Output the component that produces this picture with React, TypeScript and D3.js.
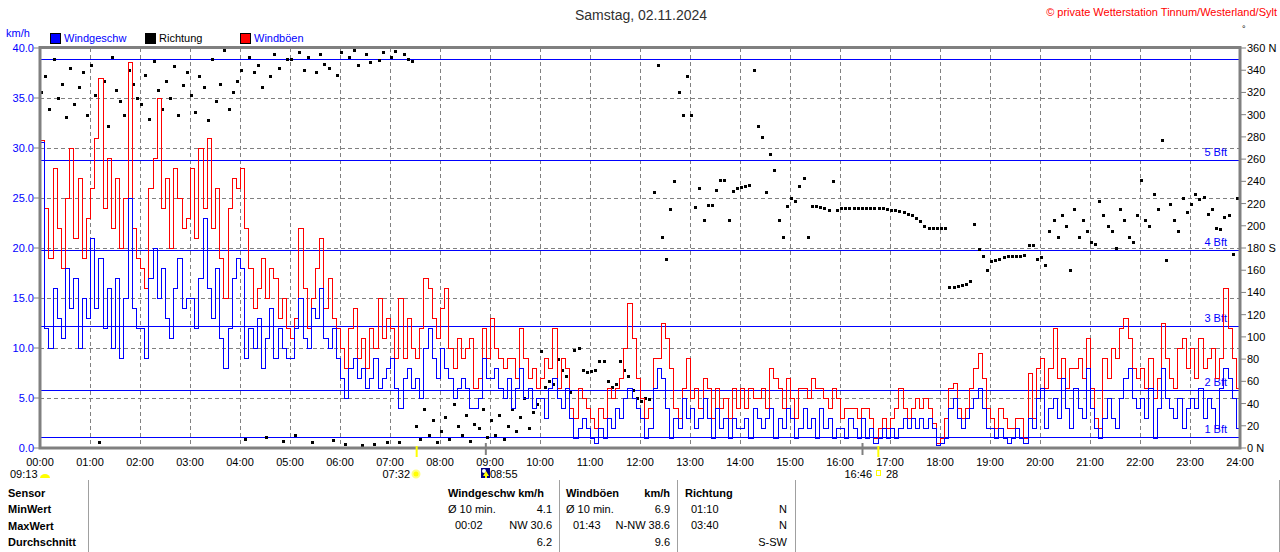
import React from 'react';
import * as d3 from 'd3';

// 5-minute readings, one row per hour (00:00 ... 23:55)
const windSpeed: number[] = [
  30.6, 12, 10, 16, 13, 11, 18, 14, 17, 10, 15, 13,
  21, 14, 19, 12, 16, 10, 17, 9, 15, 25, 14, 12,
  12, 9, 17, 20, 15, 18, 13, 11, 16, 19, 14, 15,
  15, 12, 17, 23, 16, 13, 18, 11, 8, 12, 17, 19,
  18, 9, 12, 10, 13, 8, 11, 14, 9, 12, 10, 9,
  9, 12, 15, 11, 10, 14, 13, 16, 11, 10, 12, 9,
  7, 5, 8, 9, 7, 8, 6, 7, 9, 6, 7, 8,
  9, 6, 4, 7, 8, 6, 7, 5, 10, 12, 9, 7,
  10, 8, 7, 5, 6, 7, 6, 4, 4, 5, 9, 7,
  7, 8, 6, 5, 7, 4, 6, 8, 5, 6, 4, 5,
  5, 3, 6, 7, 5, 4, 6, 3, 1, 2, 3, 2,
  1, 0.5, 2, 1, 3, 2, 4, 3, 5, 6, 5, 4,
  3, 1, 2, 6, 8, 7, 4, 1, 3, 2, 5, 3,
  4, 2, 3, 5, 3, 1, 4, 2, 3, 1, 3, 2,
  2, 3, 1, 4, 3, 2, 3, 4, 1, 3, 2, 4,
  3, 1, 2, 4, 2, 3, 1, 4, 2, 3, 1, 2,
  2, 1, 3, 2, 1, 3, 1, 2, 0.5, 1, 2, 1,
  2, 1, 2, 3, 2, 3, 2, 3, 2, 3, 2, 0.3,
  0.5, 1, 4, 5, 3, 2, 3, 4, 5, 6, 4, 2,
  2, 1, 2, 1, 0.5, 1, 2, 1, 0.5, 3, 2, 5,
  6, 2, 4, 5, 3, 7, 4, 2, 6, 4, 3, 8,
  4, 2, 1, 3, 5, 3, 2, 5, 7, 8, 5, 4,
  5, 3, 6, 1, 4, 8, 5, 4, 3, 5, 2, 4,
  5, 4, 6, 3, 5, 4, 2, 6, 8, 7, 5, 2,
];

const windGust: number[] = [
  30.8, 24, 19, 28, 22, 18, 25, 30, 21, 27, 19, 23,
  26, 31, 37, 24, 29, 22, 27, 20, 25, 38.6, 22, 19,
  18, 16, 26, 29, 35, 24, 27, 20, 28, 25, 22, 23,
  28, 21, 30, 24, 31, 22, 26, 19, 15, 24, 27, 26,
  28, 22, 18, 14, 16, 19, 15, 18, 17, 13, 15, 12,
  11, 13, 22, 16, 12, 15, 18, 21, 14, 17, 13, 12,
  10, 8, 12, 14, 9, 11, 8, 12, 10, 15, 11, 13,
  12, 9, 15, 9, 13, 10, 9, 12, 17, 16, 13, 11,
  14, 16, 10, 8, 11, 9, 10, 11, 6, 7, 12, 9,
  13, 10, 9, 8, 9, 9, 7, 12, 9, 7, 8, 6,
  7, 9, 8, 12, 6, 9, 8, 4, 3, 6, 5, 4,
  3, 2, 4, 3, 6, 5, 6, 7, 10, 14.5, 11, 7,
  5, 3, 4, 9, 9, 12.5, 11, 8, 4, 3, 6, 9,
  5, 6, 4, 7, 6, 3, 6, 4, 5, 3, 6, 4,
  6, 4, 6, 5, 5, 6, 4, 8, 7, 6, 4, 7,
  5, 3, 6, 6, 5, 7, 6, 6, 5, 4, 6, 5,
  3, 4, 4, 4, 3, 4, 4, 3, 1, 2, 3, 2,
  3, 4, 6, 4, 3, 4, 5, 4, 5, 4, 2.5, 0.5,
  1, 3, 6, 6.5, 4, 3, 4, 6, 8, 9.5, 7, 4,
  3, 2, 4, 3, 2, 2, 3, 3, 1, 7.5, 3, 8,
  9, 6, 8, 12, 7, 9, 6, 8, 8, 9, 7, 11,
  6, 3, 2, 9, 7, 10, 9, 12, 13, 11, 8, 7,
  8, 6, 9, 5, 7, 12.5, 9, 7, 6, 10, 11, 8,
  10, 7, 11, 8, 9, 10, 7, 9, 16, 12, 9, 6,
];

const direction: number[] = [
  320, 335, 305, 350, 315, 328, 298, 342, 310, 325, 338, 300,
  345, 318, 5, 330, 290, 352, 322, 312, 300, 340, 328, 315,
  310, 336, 296, 348, 322, 305, 330, 315, 344, 300, 327, 338,
  318, 302, 335, 325, 295, 350, 312, 328, 358, 305, 320, 330,
  340, 8, 352, 338, 345, 325, 10, 335, 355, 342, 6, 350,
  350, 12, 356, 340, 352, 5, 338, 355, 346, 342, 7, 336,
  356, 4, 352, 358, 345, 3, 355, 347, 4, 349, 356, 5,
  352, 357, 5, 355, 350, 348, 20, 8, 35, 12, 25, 5,
  15, 28, 8, 40, 20, 12, 30, 6, 22, 18, 35, 10,
  25, 12, 30, 8, 20, 35, 15, 28, 45, 18, 32, 40,
  87, 55, 60, 58, 80, 70, 65, 50, 88, 90, 70, 68,
  69, 70, 78, 78, 60, 55, 58, 78, 70, 65, 52, 45,
  42, 45, 44, 230, 345, 190, 170, 215, 240, 320, 300, 335,
  300, 217, 234, 205, 219, 219, 232, 241, 241, 205, 231, 234,
  235, 236, 237, 340, 290, 280, 230, 265, 250, 205, 190, 218,
  225, 222, 236, 243, 190, 218, 218, 217, 216, 214, 240, 214,
  216, 216, 216, 216, 216, 216, 216, 216, 216, 216, 216, 215,
  214, 214, 213, 212, 211, 210, 207, 204, 200, 198, 198, 198,
  198, 198, 145, 145, 146, 147, 148, 150, 202, 179, 173, 160,
  168, 169, 170, 172, 173, 173, 173, 173, 174, 183, 183, 170,
  172, 165, 195, 205, 190, 210, 200, 160, 215, 190, 205, 195,
  185, 184, 222, 210, 200, 195, 180, 215, 205, 190, 185, 210,
  241, 205, 200, 229, 215, 277, 169, 220, 205, 195, 225, 212,
  220, 229, 224, 226, 211, 215, 198, 197, 208, 210, 175, 225,
];

const hourLabels = Array.from({ length: 25 }, (_, h) => `${String(h).padStart(2, '0')}:00`);
const speedTicks = [0, 5, 10, 15, 20, 25, 30, 35, 40];
const dirTicks = [0, 20, 40, 60, 80, 100, 120, 140, 160, 180, 200, 220, 240, 260, 280, 300, 320, 340, 360];
const dirSuffix: Record<number, string> = { 0: ' N', 180: ' S', 360: ' N' };
const bftLimits = [1.08, 5.76, 12.24, 19.8, 28.8, 38.88];
const bftLabels = ['1 Bft', '2 Bft', '3 Bft', '4 Bft', '5 Bft', ''];

const legendItems = [
  { label: 'Windgeschw', color: '#0000ff', text: '#0000ff' },
  { label: 'Richtung', color: '#000000', text: '#000000' },
  { label: 'Windböen', color: '#ff0000', text: '#0000ff' },
];

const FONT = '"Liberation Sans", Arial, sans-serif';
const STEP = 5 / 60;

const App: React.FC = () => {
  const x = d3.scaleLinear().domain([0, 24]).range([40, 1240]);
  const y = d3.scaleLinear().domain([0, 40]).range([448, 48]);
  const yDir = d3.scaleLinear().domain([0, 360]).range([448, 48]);

  const stepLine = d3
    .line<number>()
    .x((_, i) => Math.round(x(i * STEP)) + 0.5)
    .y(d => Math.round(y(d)) + 0.5)
    .curve(d3.curveStepAfter);

  const gustPath = stepLine([...windGust, windGust[windGust.length - 1]]) ?? '';
  const speedPath = stepLine([...windSpeed, windSpeed[windSpeed.length - 1]]) ?? '';

  const txt = { fontFamily: FONT, fontSize: 11 } as const;

  return (
    <svg
      width={1280}
      height={552}
      style={{ position: 'fixed', left: 0, top: 0, background: '#fff' }}
    >
      <defs>
        <clipPath id="plot">
          <rect x={40} y={48} width={1200} height={400} />
        </clipPath>
      </defs>

      {/* title and header */}
      <text x={641} y={20} textAnchor="middle" fontFamily={FONT} fontSize={14} fill="#303030">
        Samstag, 02.11.2024
      </text>
      <text x={1277} y={16} textAnchor="end" {...txt} fill="#ff0000">
        © private Wetterstation Tinnum/Westerland/Sylt
      </text>
      <text x={1242} y={32} {...txt} fontSize={9} fill="#000">°</text>
      <text x={6} y={37} {...txt} fill="#0000ff">km/h</text>
      {legendItems.map((d, i) => (
        <g key={d.label} transform={`translate(${50 + i * 95},33)`}>
          <rect x={0.5} y={0.5} width={10} height={10} fill={d.color} stroke="#000" />
          <text x={14} y={9} {...txt} fill={d.text}>{d.label}</text>
        </g>
      ))}

      {/* grid */}
      {hourLabels.slice(1, 24).map((_, i) => (
        <line key={`gx${i}`} x1={x(i + 1) + 0.5} x2={x(i + 1) + 0.5} y1={48} y2={448} stroke="#808080" strokeDasharray="4,3" />
      ))}
      {speedTicks.slice(1, 8).map(t => (
        <line key={`gy${t}`} x1={40} x2={1240} y1={y(t) + 0.5} y2={y(t) + 0.5} stroke="#808080" strokeDasharray="4,3" />
      ))}

      {/* Beaufort limits */}
      {bftLimits.map((b, i) => (
        <g key={`bft${i}`}>
          <line x1={40} x2={1240} y1={Math.round(y(b)) + 0.5} y2={Math.round(y(b)) + 0.5} stroke="#0000ff" />
          <text x={1227} y={y(b) - 4} textAnchor="end" {...txt} fill="#0000ff">{bftLabels[i]}</text>
        </g>
      ))}

      <g clipPath="url(#plot)">
        {/* direction dots */}
        {direction.map((d, i) => (
          <rect key={`d${i}`} x={Math.round(x(i * STEP))} y={Math.round(yDir(d)) - 1} width={3} height={3} fill="#000" />
        ))}
        <path d={gustPath} fill="none" stroke="#ff0000" strokeWidth={1} shapeRendering="crispEdges" />
        <path d={speedPath} fill="none" stroke="#0000ff" strokeWidth={1} shapeRendering="crispEdges" />
      </g>

      {/* frame */}
      <rect x={40} y={47.5} width={1200} height={400.5} fill="none" stroke="#808080" strokeWidth={3} />

      {/* left axis */}
      {speedTicks.map(t => (
        <g key={`ly${t}`}>
          <line x1={34} x2={40} y1={y(t)} y2={y(t)} stroke="#808080" />
          <text x={34} y={y(t) + 4} textAnchor="end" {...txt} fill="#0000ff">{d3.format('.1f')(t)}</text>
        </g>
      ))}
      {/* right axis */}
      {dirTicks.map(t => (
        <g key={`ry${t}`}>
          <line x1={1240} x2={1246} y1={yDir(t)} y2={yDir(t)} stroke="#808080" />
          <text x={1247} y={yDir(t) + 4} {...txt} fill="#000">{`${t}${dirSuffix[t] ?? ''}`}</text>
        </g>
      ))}
      {/* time axis */}
      {hourLabels.map((l, h) => (
        <text key={l} x={x(h)} y={466} textAnchor="middle" {...txt} fill="#000">{l}</text>
      ))}

      {/* sun and moon markers */}
      <line x1={x(7 + 32 / 60)} x2={x(7 + 32 / 60)} y1={446} y2={457} stroke="#ffff00" strokeWidth={2} />
      <line x1={x(8 + 55 / 60)} x2={x(8 + 55 / 60)} y1={443} y2={455} stroke="#808080" strokeWidth={2} />
      <line x1={x(16 + 27 / 60)} x2={x(16 + 27 / 60)} y1={443} y2={455} stroke="#808080" strokeWidth={2} />
      <line x1={x(16 + 46 / 60)} x2={x(16 + 46 / 60)} y1={446} y2={457} stroke="#ffff00" strokeWidth={2} />
      <text x={10} y={478} {...txt} fill="#000">09:13</text>
      <path d="M40,478 A5,4 0 0 1 50,478 Z" fill="#ffff00" />
      <text x={410} y={478} textAnchor="end" {...txt} fill="#000">07:32</text>
      <circle cx={416} cy={474} r={3.5} fill="#ffff00" stroke="#ffff80" strokeWidth={2} />
      <rect x={481} y={468} width={9} height={10} fill="#000080" />
      <circle cx={484} cy={471} r={2} fill="#ffffff" />
      <path d="M486,471 L489,476 L487,476 L487,478 L485,478 L485,476 L483,476 Z" fill="#ffff00" />
      <text x={490} y={478} {...txt} fill="#000">08:55</text>
      <text x={872} y={478} textAnchor="end" {...txt} fill="#000">16:46</text>
      <rect x={876.5} y={470.5} width={4} height={5} fill="none" stroke="#ffff00" />
      <text x={886} y={478} {...txt} fill="#000">28</text>

      {/* summary table */}
      {[88, 559, 677, 795, 1279].map(v => (
        <line key={`sep${v}`} x1={v + 0.5} x2={v + 0.5} y1={480} y2={552} stroke="#a0a0a0" />
      ))}
      {['Sensor', 'MinWert', 'MaxWert', 'Durchschnitt'].map((l, i) => (
        <text key={l} x={8} y={497 + i * 16.3} {...txt} fontWeight="bold" fill="#000">{l}</text>
      ))}
      <text x={448} y={497} {...txt} fontWeight="bold">Windgeschw km/h</text>
      <text x={448} y={513} {...txt}>Ø 10 min.</text>
      <text x={552} y={513} textAnchor="end" {...txt}>4.1</text>
      <text x={455} y={529} {...txt}>00:02</text>
      <text x={552} y={529} textAnchor="end" {...txt}>NW 30.6</text>
      <text x={552} y={546} textAnchor="end" {...txt}>6.2</text>

      <text x={566} y={497} {...txt} fontWeight="bold">Windböen</text>
      <text x={670} y={497} textAnchor="end" {...txt} fontWeight="bold">km/h</text>
      <text x={566} y={513} {...txt}>Ø 10 min.</text>
      <text x={670} y={513} textAnchor="end" {...txt}>6.9</text>
      <text x={573} y={529} {...txt}>01:43</text>
      <text x={670} y={529} textAnchor="end" {...txt}>N-NW 38.6</text>
      <text x={670} y={546} textAnchor="end" {...txt}>9.6</text>

      <text x={685} y={497} {...txt} fontWeight="bold">Richtung</text>
      <text x={691} y={513} {...txt}>01:10</text>
      <text x={787} y={513} textAnchor="end" {...txt}>N</text>
      <text x={691} y={529} {...txt}>03:40</text>
      <text x={787} y={529} textAnchor="end" {...txt}>N</text>
      <text x={787} y={546} textAnchor="end" {...txt}>S-SW</text>
    </svg>
  );
};

export default App;
